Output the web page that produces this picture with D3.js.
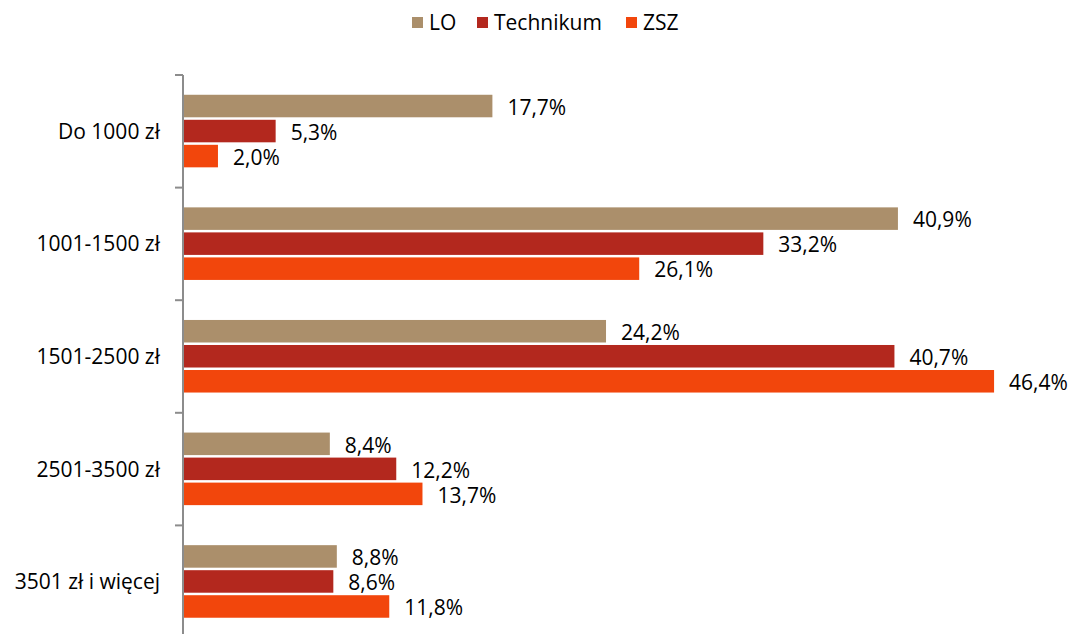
<!DOCTYPE html>
<html>
<head>
<meta charset="utf-8">
<script src="https://cdn.jsdelivr.net/npm/d3@7"></script>
<style>
  body { margin: 0; background: #fff; }
  text { font-family: "Open Sans", sans-serif; fill: #000; }
</style>
</head>
<body>
<div id="chart"></div>
<script>
// dane
var categories = ["Do 1000 zł", "1001-1500 zł", "1501-2500 zł", "2501-3500 zł", "3501 zł i więcej"];
var seriesNames = ["LO", "Technikum", "ZSZ"];
var valuesLO = [17.7, 40.9, 24.2, 8.4, 8.8];
var valuesTechnikum = [5.3, 33.2, 40.7, 12.2, 8.6];
var valuesZSZ = [2.0, 26.1, 46.4, 13.7, 11.8];
var colors = ["#AB8F6B", "#B3281E", "#F2460C"];

var W = 1072, H = 634;
var series = [valuesLO, valuesTechnikum, valuesZSZ];

var svg = d3.select("#chart")
  .append("svg")
    .attr("width", W)
    .attr("height", H);

// skale
var x = d3.scaleLinear()
  .domain([0, 50])
  .range([183, 183 + 874]);

var y = d3.scaleBand()
  .domain(categories)
  .range([75, 638])
  .paddingInner(0)
  .paddingOuter(0);

var inner = d3.scaleBand()
  .domain(seriesNames)
  .range([0, y.bandwidth()])
  .paddingInner(0)
  .paddingOuter(0.75);

// dane płaskie
var flat = [];
categories.forEach(function(c, i) {
  seriesNames.forEach(function(s, j) {
    flat.push({cat: c, ser: s, idx: j, val: series[j][i]});
  });
});

// słupki
svg.append("g").selectAll("rect")
  .data(flat)
  .enter()
  .append("rect")
    .attr("x", x(0))
    .attr("y", function(d) { return y(d.cat) + inner(d.ser) + 1; })
    .attr("width", function(d) { return x(d.val) - x(0); })
    .attr("height", inner.bandwidth() - 2.5)
    .attr("fill", function(d) { return colors[d.idx]; });

// etykiety wartości
svg.append("g").selectAll("text")
  .data(flat)
  .enter()
  .append("text")
    .attr("x", function(d) { return x(d.val) + 15; })
    .attr("y", function(d) { return y(d.cat) + inner(d.ser) + inner.bandwidth() / 2 + 1; })
    .attr("dy", "0.36em")
    .style("font-size", "21px")
    .text(function(d) { return d3.format(".1f")(d.val).replace(".", ",") + "%"; });

// oś Y
var axis = svg.append("g");
axis.append("line")
  .attr("x1", x(0)).attr("x2", x(0))
  .attr("y1", y.range()[0]).attr("y2", H)
  .attr("stroke", "#8c8c8c").attr("stroke-width", 2);

axis.selectAll(".tick")
  .data(categories)
  .enter()
  .append("line")
    .attr("class", "tick")
    .attr("x1", x(0) - 8).attr("x2", x(0))
    .attr("y1", function(d) { return y(d); })
    .attr("y2", function(d) { return y(d); })
    .attr("stroke", "#8c8c8c").attr("stroke-width", 2);

axis.selectAll(".cat")
  .data(categories)
  .enter()
  .append("text")
    .attr("class", "cat")
    .attr("x", 160)
    .attr("y", function(d) { return y(d) + y.bandwidth() / 2; })
    .attr("dy", "0.36em")
    .attr("text-anchor", "end")
    .style("font-size", "21px")
    .text(function(d) { return d; });

// legenda
var legendX = [412, 477, 626];
var legend = svg.append("g");
seriesNames.forEach(function(s, j) {
  legend.append("rect")
    .attr("x", legendX[j]).attr("y", 17)
    .attr("width", 11).attr("height", 11)
    .attr("fill", colors[j]);
  legend.append("text")
    .attr("x", legendX[j] + 17).attr("y", 22.5)
    .attr("dy", "0.36em")
    .style("font-size", "21px")
    .text(s);
});
</script>
</body>
</html>
